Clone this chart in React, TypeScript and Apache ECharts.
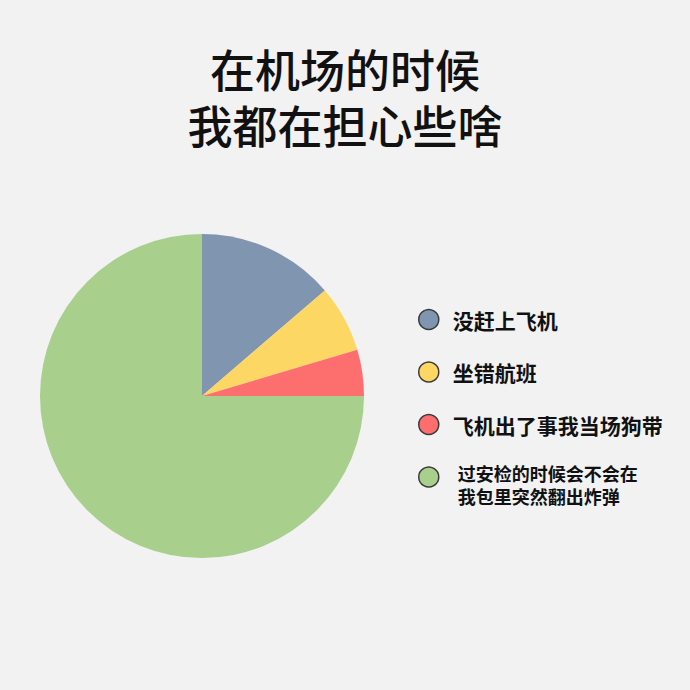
import React, { useEffect, useRef } from "react";
import * as echarts from "echarts";

const titleLines = ["在机场的时候", "我都在担心些啥"];
const categories = [
  "没赶上飞机",
  "坐错航班",
  "飞机出了事我当场狗带",
  "过安检的时候会不会在\n我包里突然翻出炸弹",
];
const values = [13.7, 6.7, 4.6, 75];
const colors = ["#8096b0", "#fdd763", "#fd6f6f", "#a8cf8c"];

export default function App() {
  const ref = useRef<HTMLDivElement>(null);
  useEffect(() => {
    if (!ref.current) return;
    const chart = echarts.init(ref.current, undefined, { renderer: "svg" });
    const font = '"Noto Sans CJK SC", "Noto Sans", sans-serif';
    const titleStyle = {
      fontFamily: font,
      fontSize: 45,
      fontWeight: 500,
      color: "#111",
      lineHeight: 45,
    };
    const legendBase = {
      orient: "vertical",
      left: 418,
      padding: 0,
      itemWidth: 20,
      itemHeight: 20,
      icon: "circle",
      selectedMode: false,
      itemStyle: { borderColor: "#3a3a3a", borderWidth: 1.5 },
    };
    chart.setOption({
      animation: false,
      backgroundColor: "#f2f2f2",
      title: [
        { text: titleLines[0], left: "center", top: 46, padding: 0, textStyle: titleStyle },
        { text: titleLines[1], left: "center", top: 102, padding: 0, textStyle: titleStyle },
      ],
      legend: [
        {
          ...legendBase,
          top: 308.5,
          itemGap: 30.5,
          data: categories.slice(0, 3),
          textStyle: {
            fontFamily: font,
            fontSize: 21,
            fontWeight: "bold",
            lineHeight: 22,
            color: "#111",
            padding: [0, 0, 0, 9],
          },
        },
        {
          ...legendBase,
          top: 448.5,
          data: categories.slice(3),
          formatter: (name: string) =>
            "{e| }\n" + name.split("\n").map((l) => `{a|${l}}`).join("\n"),
          textStyle: {
            fontFamily: font,
            color: "#111",
            rich: {
              e: { fontSize: 10, lineHeight: 15 },
              a: {
                fontFamily: font,
                fontSize: 18,
                fontWeight: "bold",
                lineHeight: 23.5,
                color: "#111",
                padding: [0, 0, 0, 14],
              },
            },
          },
        },
      ],
      series: [
        {
          type: "pie",
          center: [202, 396],
          radius: 162,
          startAngle: 90,
          clockwise: true,
          label: { show: false },
          labelLine: { show: false },
          emphasis: { disabled: true },
          itemStyle: { borderWidth: 0 },
          data: categories.map((name, i) => ({
            name,
            value: values[i],
            itemStyle: { color: colors[i] },
          })),
        },
      ],
    });
    return () => chart.dispose();
  }, []);
  return (
    <div
      ref={ref}
      style={{ position: "fixed", left: 0, top: 0, width: 690, height: 690 }}
    />
  );
}
